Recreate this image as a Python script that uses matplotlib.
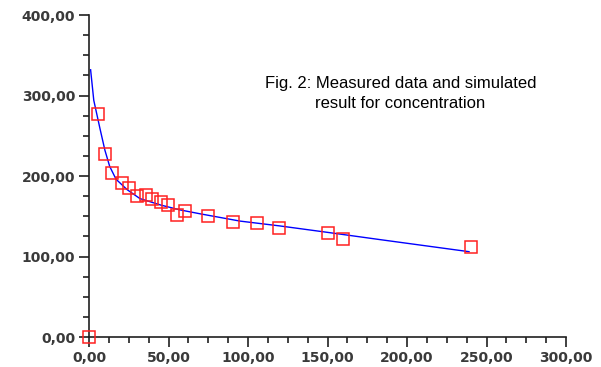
import matplotlib.pyplot as plt
from matplotlib.ticker import MultipleLocator, FuncFormatter

# measured data (red squares)
meas_x = [0, 5.8, 10.1, 14.7, 20.6, 25.2, 30.4, 35.7, 39.4, 45.1, 49.9, 55.5, 60.4,
          74.7, 90.8, 105.5, 119.5, 150.5, 160, 240]
meas_y = [0, 277, 227, 204, 191, 185, 175, 176, 172, 168, 164, 152, 156,
          150, 143, 142, 136, 129, 122, 112]

# simulated result (blue line)
sim_x = [1, 3, 5, 7, 10, 13, 17, 24, 32, 45, 57, 70, 95, 120, 150, 183, 239]
sim_y = [332, 294, 276, 258, 232, 212, 196, 183, 172, 164, 158, 153, 144, 138, 130, 121, 106]

fig = plt.figure(figsize=(6.01, 3.67), dpi=100)
ax = fig.add_axes([0.1481, 0.0817, 0.7937, 0.8774])

ax.plot(sim_x, sim_y, color='#0000ff', lw=1.0)
ax.plot(meas_x, meas_y, ls='none', marker='s', ms=9, mfc='none', mec='#ff2020',
        mew=1.1, clip_on=False, zorder=3)

ax.set_xlim(0, 300)
ax.set_ylim(0, 400)
ax.xaxis.set_major_locator(MultipleLocator(50))
ax.xaxis.set_minor_locator(MultipleLocator(12.5))
ax.yaxis.set_major_locator(MultipleLocator(100))
ax.yaxis.set_minor_locator(MultipleLocator(25))
fmt = FuncFormatter(lambda v, p: ('%.2f' % v).replace('.', ','))
ax.xaxis.set_major_formatter(fmt)
ax.yaxis.set_major_formatter(fmt)

for s in ['top', 'right']:
    ax.spines[s].set_visible(False)
for s in ['left', 'bottom']:
    ax.spines[s].set_linewidth(1.2)
    ax.spines[s].set_color('#202020')

ax.tick_params(which='major', length=7, width=1.2, color='#202020',
               labelsize=10, labelcolor='#3a3a3a', pad=3)
ax.tick_params(which='minor', length=4, width=1.2, color='#202020')
for lab in ax.get_xticklabels() + ax.get_yticklabels():
    lab.set_fontweight('semibold')

fig.text(0.666, 0.745, 'Fig. 2: Measured data and simulated\nresult for concentration',
         ha='center', va='center', fontsize=12, family='Liberation Sans',
         linespacing=1.35)

fig.savefig('out.png', dpi=100)
